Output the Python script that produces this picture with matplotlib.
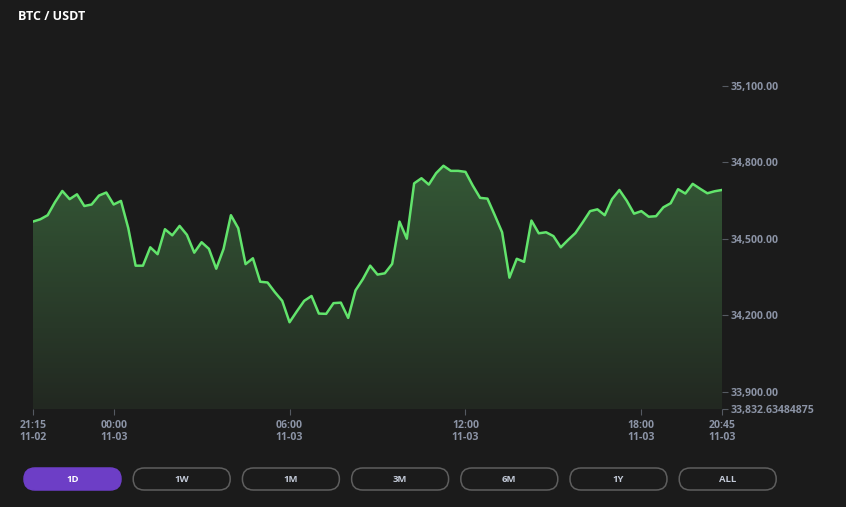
import numpy as np
import matplotlib
matplotlib.use("Agg")
import matplotlib.pyplot as plt
from matplotlib.patches import FancyBboxPatch, Polygon

# ---- data ----
title = "BTC / USDT"
step_minutes = 15
prices = [34568, 34577, 34593, 34644, 34688, 34656, 34675, 34629, 34635, 34670,
          34682, 34635, 34649, 34542, 34395, 34395, 34467, 34440, 34538, 34514,
          34551, 34516, 34446, 34487, 34461, 34383, 34461, 34593, 34542, 34401,
          34424, 34332, 34329, 34291, 34257, 34173, 34216, 34257, 34276, 34207,
          34206, 34248, 34250, 34190, 34298, 34342, 34395, 34360, 34365, 34402,
          34568, 34501, 34718, 34738, 34713, 34758, 34787, 34767, 34767, 34763,
          34709, 34661, 34658, 34593, 34526, 34348, 34422, 34410, 34572, 34522,
          34526, 34511, 34467, 34496, 34523, 34565, 34609, 34616, 34593, 34656,
          34692, 34650, 34599, 34609, 34587, 34589, 34624, 34640, 34695, 34678,
          34716, 34697, 34679, 34687, 34692]
xtick_minutes = [0, 165, 525, 885, 1245, 1410]
xtick_labels = ["21:15\n11-02", "00:00\n11-03", "06:00\n11-03", "12:00\n11-03",
                "18:00\n11-03", "20:45\n11-03"]
y_min = 33832.63484875
ytick_values = [y_min, 33900, 34200, 34500, 34800, 35100]
ytick_labels = ["33,832.63484875", "33,900.00", "34,200.00", "34,500.00",
                "34,800.00", "35,100.00"]
y_top = 35300
buttons = ["1D", "1W", "1M", "3M", "6M", "1Y", "ALL"]
active_button = "1D"

# ---- style ----
BG = "#1b1b1b"
LINE = "#62e46c"
TICKTXT = "#8b93a5"
W, H = 846, 507

fig = plt.figure(figsize=(W / 100, H / 100), dpi=100, facecolor=BG)

ov = fig.add_axes([0, 0, 1, 1], zorder=0)
ov.set_xlim(0, W)
ov.set_ylim(H, 0)
ov.axis("off")
ov.set_facecolor(BG)

ax = fig.add_axes([33 / W, (H - 409) / H, 689 / W, (409 - 35) / H], zorder=1)
ax.set_facecolor("none")

x = np.arange(len(prices)) * step_minutes
y = np.array(prices, dtype=float)

ax.set_xlim(x[0], x[-1])
ax.set_ylim(y_min, y_top)

# gradient fill under curve
ymax_d = y.max()
grad = np.linspace(0.0, 1.0, 256).reshape(-1, 1)
top_rgb = np.array([52, 88, 54]) / 255
bot_rgb = np.array([34, 40, 33]) / 255
img = bot_rgb + (top_rgb - bot_rgb) * grad[..., None]
img = img.reshape(256, 1, 3)
im = ax.imshow(img, extent=[x[0], x[-1], y_min, ymax_d], origin="lower",
               aspect="auto", zorder=1, interpolation="bilinear")
verts = np.vstack([np.column_stack([x, y]), [[x[-1], y_min], [x[0], y_min]]])
poly = Polygon(verts, closed=True, facecolor="none", edgecolor="none",
               transform=ax.transData)
ax.add_patch(poly)
im.set_clip_path(poly)

ax.plot(x, y, color=LINE, lw=1.8, zorder=3, solid_joinstyle="round")

for s in ax.spines.values():
    s.set_visible(False)

ax.yaxis.tick_right()
ax.set_yticks(ytick_values)
ax.set_yticklabels(ytick_labels)
ax.set_xticks(xtick_minutes)
ax.set_xticklabels(xtick_labels, linespacing=1.05)
ax.tick_params(axis="y", colors="#555a62", length=4, width=0.8, pad=2,
               labelcolor=TICKTXT, labelsize=7.6)
ax.tick_params(axis="x", colors="#555a62", length=4, width=0.8, pad=4,
               labelcolor=TICKTXT, labelsize=7.6)
for lab in ax.get_yticklabels() + ax.get_xticklabels():
    lab.set_fontfamily("Open Sans")
    lab.set_fontweight("bold")

# title
ov.text(18, 16, title, color="white", fontsize=9, fontweight="bold",
        fontfamily="Open Sans", va="center", ha="left")

# buttons
bx0, bw, pitch, by0, bh = 24, 97, 109.2, 468, 22
for i, name in enumerate(buttons):
    xl = bx0 + i * pitch
    active = name == active_button
    p = FancyBboxPatch((xl, by0), bw, bh,
                       boxstyle=f"round,pad=0,rounding_size={bh/2}",
                       facecolor="#6d3ec6" if active else "none",
                       edgecolor="#6d3ec6" if active else "#5e5e5e",
                       lw=1.1)
    ov.add_patch(p)
    ov.text(xl + bw / 2, by0 + bh / 2 + 0.5, name,
            color="white" if active else "#c3cad8", fontsize=6.8,
            fontweight="bold", fontfamily="Open Sans", ha="center", va="center")

fig.savefig("out.png", dpi=100, facecolor=BG)
